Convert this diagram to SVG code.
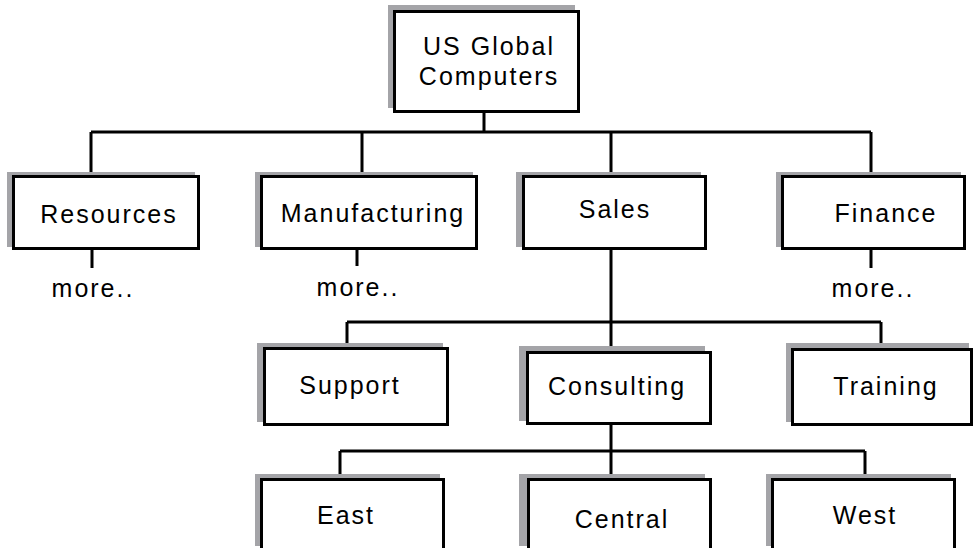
<svg xmlns="http://www.w3.org/2000/svg" width="973" height="548" viewBox="0 0 973 548">
<style>
.sh{fill:#a4a4a8;stroke:none}
.bx{fill:#fff;stroke:#000;stroke-width:3}
.t{font-family:"Liberation Sans",Arial,sans-serif;font-size:25px;letter-spacing:2px;fill:#000;text-anchor:middle}
.c{fill:none;stroke:#000;stroke-width:3}
</style>
<rect width="973" height="548" fill="#fff"/>
<g id="connectors" class="c">
<path d="M484 113V132M91 132H871M91 132V175M362 132V175M611 132V175M871 132V175"/>
<path d="M92 250V268M357 250V266M871 250V268"/>
<path d="M611 250V351M347 322H881M347 322V347M881 322V348"/>
<path d="M611 425V478M340 451H865M340 451V478M865 451V478"/>
</g>
<g id="root"><rect class="sh" x="388" y="5" width="187" height="103"/><rect class="bx" x="394.5" y="11.5" width="184" height="100"/><text class="t" x="489" y="55">US Global</text><text class="t" x="489" y="85">Computers</text></g>
<g id="resources"><rect class="sh" x="7" y="172" width="188" height="75"/><rect class="bx" x="13.5" y="176.5" width="185" height="72"/><text class="t" x="109" y="223">Resources</text></g>
<g id="manufacturing"><rect class="sh" x="255" y="172" width="218" height="75"/><rect class="bx" x="261.5" y="176.5" width="215" height="72"/><text class="t" x="373" y="222">Manufacturing</text></g>
<g id="sales"><rect class="sh" x="516" y="172" width="185" height="75"/><rect class="bx" x="523.5" y="176.5" width="182" height="72"/><text class="t" x="615" y="218">Sales</text></g>
<g id="finance"><rect class="sh" x="776" y="172" width="185" height="75"/><rect class="bx" x="782.5" y="176.5" width="182" height="72"/><text class="t" x="886" y="222">Finance</text></g>
<text class="t" x="93" y="297">more..</text>
<text class="t" x="358" y="296">more..</text>
<text class="t" x="873" y="297">more..</text>
<g id="support"><rect class="sh" x="257" y="343" width="186" height="79"/><rect class="bx" x="264.5" y="348.5" width="183" height="76"/><text class="t" x="350" y="394">Support</text></g>
<g id="consulting"><rect class="sh" x="519" y="346" width="186" height="75"/><rect class="bx" x="527.5" y="352.5" width="183" height="71"/><text class="t" x="617" y="395">Consulting</text></g>
<g id="training"><rect class="sh" x="786" y="343" width="183" height="79"/><rect class="bx" x="792.5" y="349.5" width="179" height="75"/><text class="t" x="886" y="395">Training</text></g>
<g id="east"><rect class="sh" x="255" y="474" width="185" height="72"/><rect class="bx" x="261.5" y="479.5" width="182" height="70"/><text class="t" x="346" y="524">East</text></g>
<g id="central"><rect class="sh" x="519" y="474" width="186" height="72"/><rect class="bx" x="528.5" y="479.5" width="182" height="70"/><text class="t" x="622" y="528">Central</text></g>
<g id="west"><rect class="sh" x="766" y="474" width="185" height="72"/><rect class="bx" x="772.5" y="479.5" width="182" height="70"/><text class="t" x="865" y="524">West</text></g>
</svg>
